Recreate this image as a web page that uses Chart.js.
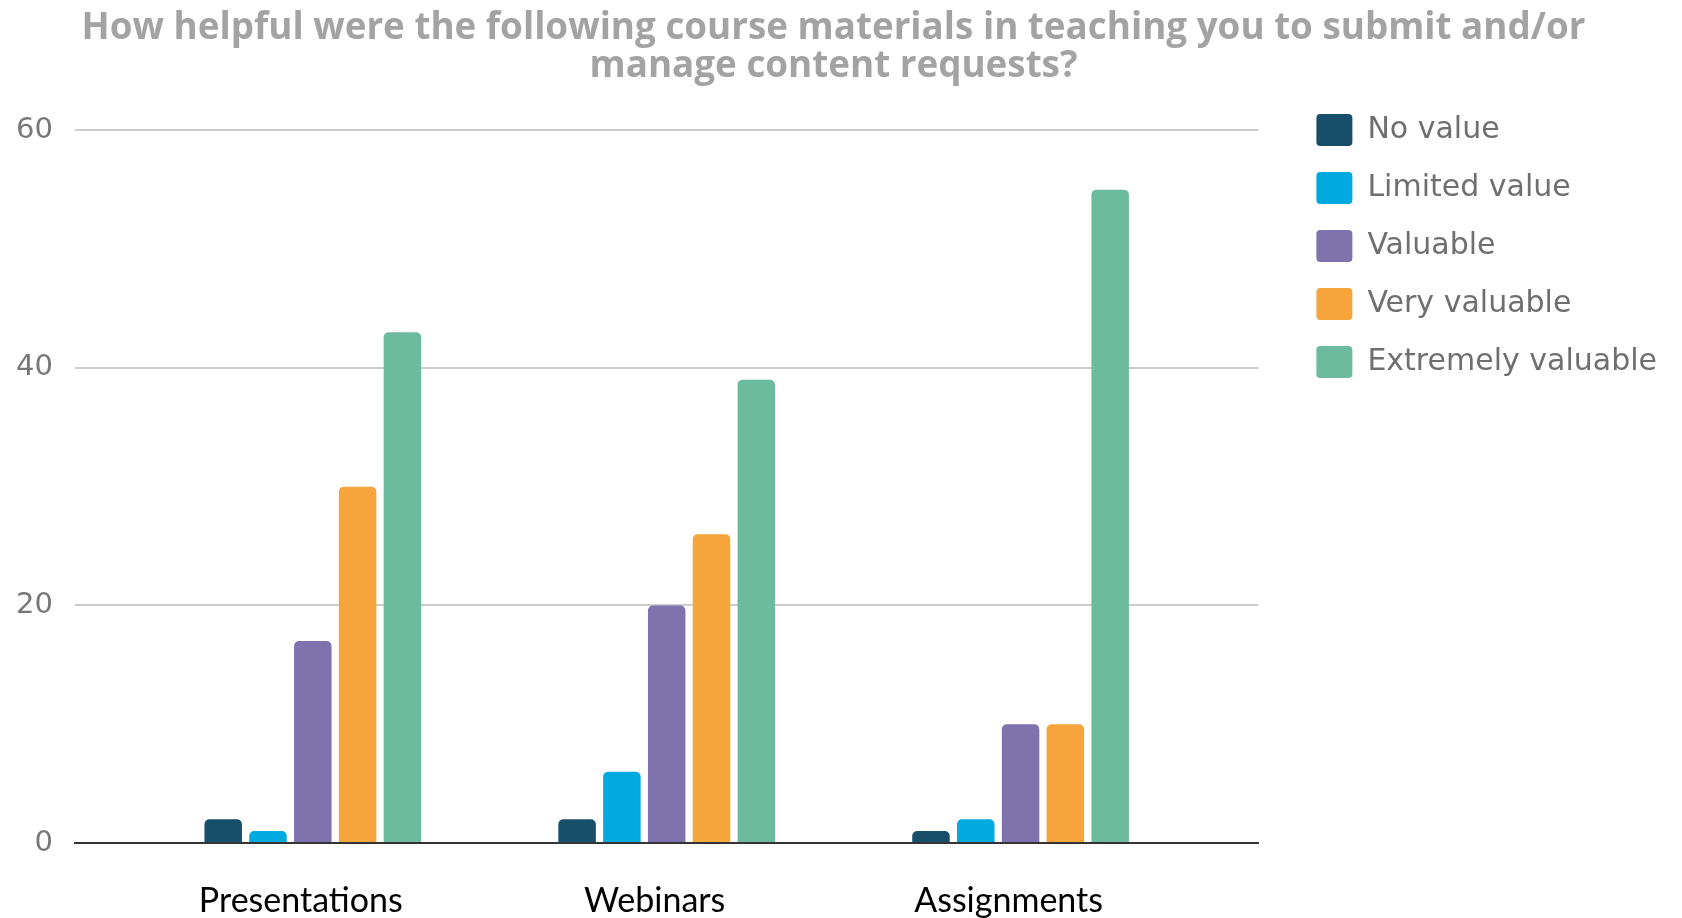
<!DOCTYPE html>
<html><head><meta charset="utf-8">
<script src="https://cdn.jsdelivr.net/npm/chart.js@4/dist/chart.umd.min.js"></script>
<style>html,body{margin:0;padding:0;background:#fff}#wrap{width:1682px;height:918px}</style>
</head><body><div id="wrap"><canvas id="c" width="1682" height="918"></canvas></div>
<script>
const categories = ['Presentations', 'Webinars', 'Assignments'];
const seriesNames = ['No value', 'Limited value', 'Valuable', 'Very valuable', 'Extremely valuable'];
const noValue = [2, 2, 1];
const limitedValue = [1, 6, 2];
const valuable = [17, 20, 10];
const veryValuable = [30, 26, 10];
const extremelyValuable = [43, 39, 55];
const yTickValues = [0, 20, 40, 60];
const titleLines = ['How helpful were the following course materials in teaching you to submit and/or', 'manage content requests?'];
const seriesColors = ['#174f6b', '#00a9e0', '#7f72ad', '#f5a53b', '#6dbb9e'];

const seriesValues = [noValue, limitedValue, valuable, veryValuable, extremelyValuable];

new Chart(document.getElementById('c'), {
  type: 'bar',
  data: {
    datasets: seriesNames.map((name, s) => ({
      label: name,
      data: categories.map((c, i) => ({ x: i, y: seriesValues[s][i] })),
      backgroundColor: seriesColors[s],
      borderRadius: 5,
      borderSkipped: 'bottom',
      categoryPercentage: 0.633,
      barPercentage: 0.837
    }))
  },
  options: {
    responsive: false,
    devicePixelRatio: 1,
    animation: false,
    layout: { padding: { left: 0, right: 15, top: 0, bottom: 0 } },
    scales: {
      x: {
        type: 'linear',
        offset: false,
        bounds: 'data',
        min: -0.672,
        max: 2.672,
        afterBuildTicks: s => { s.ticks = categories.map((c, i) => ({ value: i })); },
        afterFit: s => { s.height = 75; },
        ticks: {
          callback: v => categories[v],
          autoSkip: false,
          maxRotation: 0,
          padding: 30,
          labelOffset: -12,
          color: '#000',
          font: { family: 'Lato', size: 34 }
        },
        grid: { display: false, offset: false },
        border: { display: true, color: '#333333', width: 2 }
      },
      y: {
        min: 0,
        max: 60,
        afterBuildTicks: s => { s.ticks = yTickValues.map(v => ({ value: v })); },
        afterFit: s => { s.width = 75; },
        ticks: {
          padding: 22,
          color: '#777777',
          font: { family: 'DejaVu Sans', size: 29 }
        },
        grid: {
          drawTicks: false,
          lineWidth: 2,
          color: ctx => (ctx.tick && ctx.tick.value === 0) ? 'rgba(0,0,0,0)' : '#cccccc'
        },
        border: { display: false }
      },
      gap: {
        position: 'right',
        display: true,
        ticks: { display: false },
        grid: { display: false },
        border: { display: false },
        afterFit: s => { s.width = 32; }
      }
    },
    plugins: {
      title: {
        display: true,
        text: titleLines,
        color: '#a3a3a3',
        font: { family: 'Open Sans', size: 36.8, weight: '700', lineHeight: 1.05 },
        padding: { top: 9, bottom: 44 }
      },
      legend: {
        position: 'right',
        align: 'start',
        maxWidth: 460,
        title: { display: true, text: '', font: { size: 10, lineHeight: 1.2 }, padding: { top: 76, bottom: 0 } },
        labels: {
          boxWidth: 36,
          boxHeight: 32,
          padding: 26,
          useBorderRadius: true,
          borderRadius: 4,
          color: '#6f6f6f',
          font: { family: 'DejaVu Sans', size: 30 }
        }
      },
      tooltip: { enabled: false }
    }
  }
});
</script>
</body></html>
